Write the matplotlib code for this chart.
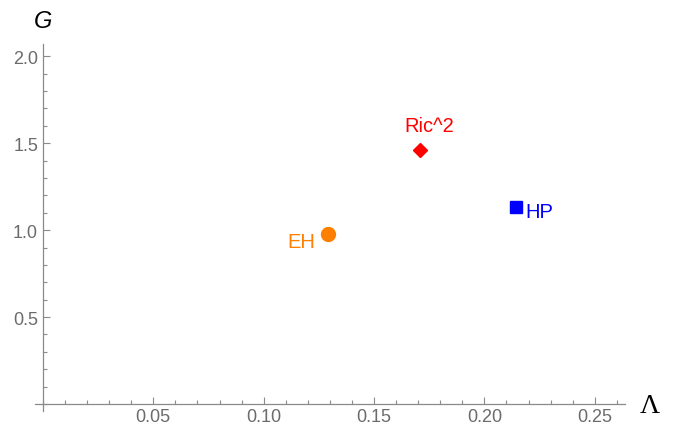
import matplotlib
matplotlib.use("Agg")
from matplotlib import pyplot as plt
from matplotlib.ticker import MultipleLocator, FixedLocator

plt.rcParams['font.family'] = ['Liberation Sans', 'DejaVu Sans']

# points
names = ["EH", "Ric^2", "HP"]
lam = [0.1291, 0.1708, 0.2145]
g = [0.977, 1.463, 1.135]
colors = ["#ff8000", "#ff0000", "#0000ff"]
markers = ["o", "D", "s"]
sizes = [10, 7, 8.3]

xticks = [0.05, 0.10, 0.15, 0.20, 0.25]
yticks = [0.5, 1.0, 1.5, 2.0]

fig = plt.figure(figsize=(6.76, 4.27), dpi=100)
ax = fig.add_axes([35 / 676, 15 / 427, 590 / 676, 367 / 427])

for n, x, y, c, m, s in zip(names, lam, g, colors, markers, sizes):
    ax.plot(x, y, marker=m, color=c, markersize=s, linestyle="none")

# labels offset like the original (points)
offsets = [(-19.4, -9.4), (6.5, 13.3), (16.6, -7.6)]
for n, x, y, c, off in zip(names, lam, g, colors, offsets):
    ax.annotate(n, (x, y), xytext=off, textcoords="offset points",
                color=c, fontsize=14.5, ha="center", va="baseline")

ax.set_xlim(-0.0036, 0.2637)
ax.set_ylim(-0.04, 2.07)
for side in ["top", "right"]:
    ax.spines[side].set_visible(False)
ax.spines["left"].set_position(("data", 0))
ax.spines["bottom"].set_position(("data", 0))
for side in ["left", "bottom"]:
    ax.spines[side].set_color("#8a8a8a")
    ax.spines[side].set_linewidth(0.9)

ax.xaxis.set_major_locator(FixedLocator(xticks))
ax.yaxis.set_major_locator(FixedLocator(yticks))
ax.xaxis.set_minor_locator(MultipleLocator(0.01))
ax.yaxis.set_minor_locator(MultipleLocator(0.1))
ax.set_xticklabels([f"{v:.2f}" for v in xticks])
ax.set_yticklabels([f"{v:.1f}" for v in yticks])
ax.tick_params(which="both", direction="in", color="#8a8a8a", labelcolor="#6b6b6b",
               labelsize=13, width=0.8)
ax.tick_params(which="major", length=5)
ax.tick_params(which="minor", length=3)
ax.tick_params(axis="x", which="major", pad=3)
ax.tick_params(axis="y", which="major", pad=3.5)

fig.text(43 / 676, 1 - 28 / 427, "G", fontsize=17, style="italic",
         ha="center", va="baseline")
fig.text(650 / 676, 1 - 413 / 427, "Λ", fontsize=20, family="Liberation Serif",
         ha="center", va="baseline")

fig.savefig("out.png", dpi=100)
